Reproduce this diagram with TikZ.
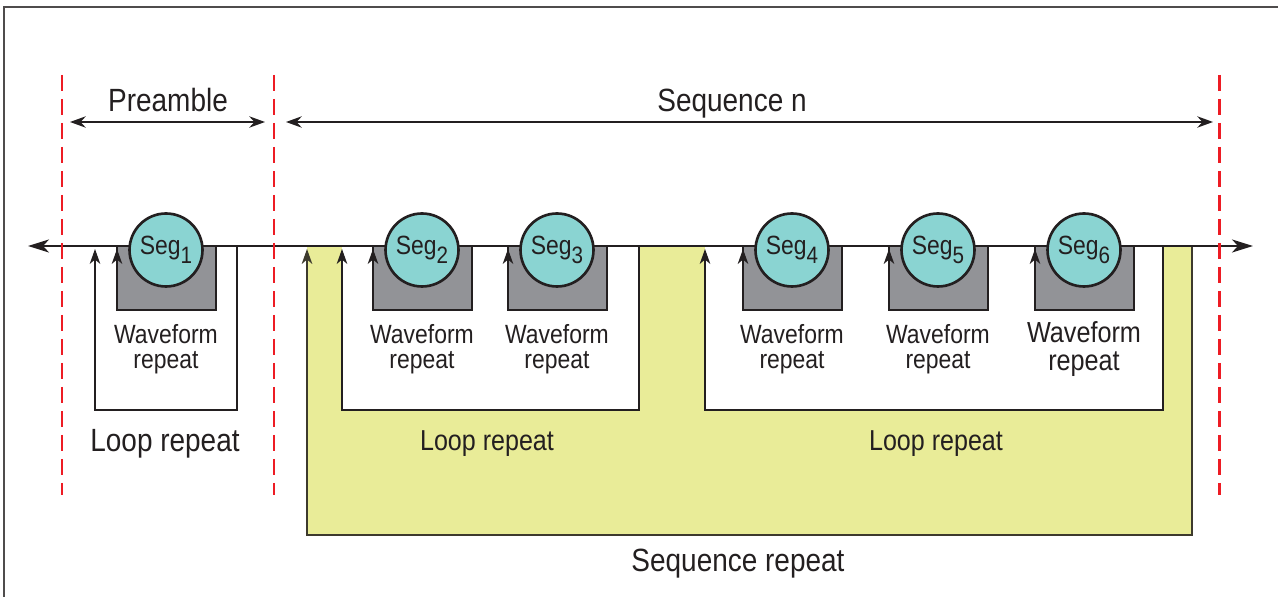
\documentclass[tikz,border=0pt]{standalone}
\usepackage{fontspec}
\setmainfont[FakeStretch=0.87]{Liberation Sans}
\usetikzlibrary{arrows.meta}

\definecolor{segteal}{RGB}{138,212,210}
\definecolor{seqyellow}{RGB}{233,236,152}
\definecolor{wfgray}{RGB}{146,147,151}
\definecolor{cutred}{RGB}{237,28,36}
\definecolor{ink}{RGB}{35,31,32}

\def \seqArea{ (307,246) rectangle (1192,535) }
\def \loopB{ (342,246) rectangle (639,410) }
\def \loopC{ (705,246) rectangle (1163,410) }

\begin{document}
\begin{tikzpicture}[x=0.02cm, y=-0.02cm, text=ink,
  seg/.style={circle, draw=ink, line width=1.5pt, fill=segteal, minimum size=1.46cm, inner sep=0pt, font=\fontsize{15}{15}\selectfont},
  rep/.style={draw=ink, line width=0.7pt, -{Stealth[length=8.5pt,width=6pt,inset=2.5pt]}},
  cut/.style={cutred, line width=1.7pt, dash pattern=on 0.32cm off 0.16cm},
  span/.style={draw=ink, line width=0.7pt, {Stealth[length=9pt,width=6.5pt,inset=3pt]}-{Stealth[length=9pt,width=6.5pt,inset=3pt]}},
  big/.style={font=\fontsize{18.3}{20}\selectfont, anchor=base},
  mid/.style={font=\fontsize{16.4}{18}\selectfont, anchor=base},
  wftext/.style={align=center}]
\useasboundingbox (0,0) rectangle (1278,597);
\draw[ink!80, line width=0.6pt] (4,597) |- (1278,7);

\fill[seqyellow] \seqArea;
\draw[rep, draw=black!75!olive, line width=1pt] (1192,246) |- (307,535) -- (307,249);
\fill[white] \loopB; \fill[white] \loopC;
\draw[rep] (237,246) |- (95,410) -- (95,249);
\draw[rep] (639,246) |- (342,410) -- (342,249);
\draw[rep] (1163,246) |- (705,410) -- (705,249);

\foreach \n/\cx/\fs/\bs in {1/166/15/14.5,2/422/15/14.5,3/557/15/14.5,4/792/15/14.5,5/938/15/14.5,6/1084/16.5/15.5}{
  \fill[wfgray] (\cx-49,246) rectangle (\cx+50,310);
  \draw[ink, line width=0.6pt] (\cx-49,246) rectangle (\cx+50,310);
  \draw[rep] (\cx-49,310) -- (\cx-49,249);
  \node[wftext, font=\fontsize{\fs}{\bs}\selectfont] (wf\n) at (\cx,349) {Waveform\\repeat};
}

\coordinate (mainL) at (28,246);
\coordinate (mainR) at (1253,246);
\draw[ink, line width=1.3pt, {Stealth[length=0.42cm,width=0.26cm,inset=0.12cm]}-{Stealth[length=0.42cm,width=0.26cm,inset=0.12cm]}] (mainL) -- (mainR);

\foreach \n/\cx in {1/166,2/422,3/557,4/792,5/938,6/1084}
  \node[seg] (seg\n) at (\cx,250) {Seg\raisebox{-5pt}{\fontsize{13.5}{13.5}\selectfont\n}};

\foreach \x in {62,274,1219} \draw[cut] (\x,75) -- (\x,495);

\coordinate (preL) at (70,122); \coordinate (preR) at (265,122);
\coordinate (seqL) at (286,122); \coordinate (seqR) at (1213,122);
\draw[span] (preL) -- (preR);
\draw[span] (seqL) -- (seqR);
\node[big] (pre) at (168,112) {Preamble};
\node[big] (seqn) at (732,112) {Sequence n};

\node[big] (loopA) at (165,452) {Loop repeat};
\node[mid] (loopB) at (487,451) {Loop repeat};
\node[mid] (loopC) at (936,451) {Loop repeat};
\node[big] (seqrep) at (738,572) {Sequence repeat};
\end{tikzpicture}
\end{document}
